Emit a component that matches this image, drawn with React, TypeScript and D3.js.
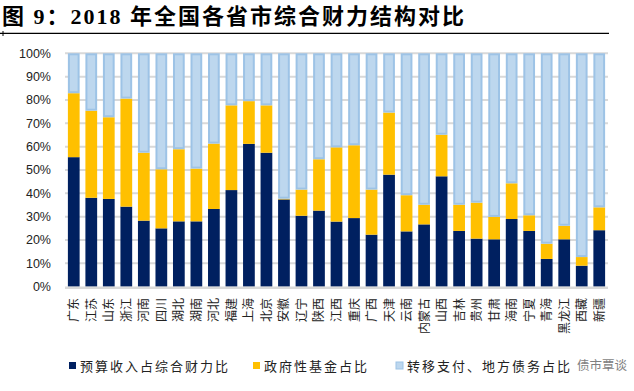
import { useEffect, useRef } from "react";
import * as d3 from "d3";

// 省份（从左到右）
const provinces = [
  "广东", "江苏", "山东", "浙江", "河南", "四川", "湖北", "湖南", "河北", "福建",
  "上海", "北京", "安徽", "辽宁", "陕西", "江西", "重庆", "广西", "天津", "云南",
  "内蒙古", "山西", "吉林", "贵州", "甘肃", "海南", "宁夏", "青海", "黑龙江", "西藏", "新疆",
];

// 预算收入占综合财力比 (%)
const budgetShare = [
  55.5, 38.1, 37.6, 34.3, 28.3, 25.0, 28.0, 28.0, 33.3, 41.4,
  61.2, 57.4, 37.4, 30.4, 32.6, 27.9, 29.4, 22.3, 48.0, 23.7,
  26.7, 47.3, 23.9, 20.6, 20.3, 29.0, 23.9, 11.9, 20.3, 9.0, 24.2,
];

// 政府性基金占比 (%)
const fundShare = [
  27.4, 37.3, 35.0, 46.3, 29.1, 25.3, 30.9, 22.6, 28.0, 36.3,
  18.3, 20.3, 0.3, 11.2, 22.0, 31.8, 31.2, 19.3, 26.6, 15.5,
  8.4, 17.8, 11.2, 15.4, 9.6, 15.3, 6.7, 6.5, 5.8, 3.7, 9.8,
];

const yTicks = [0, 10, 20, 30, 40, 50, 60, 70, 80, 90, 100];

const seriesNames = ["预算收入占综合财力比", "政府性基金占比", "转移支付、地方债务占比"];
const seriesColors = ["#002060", "#FFC000", "#BDD7EE"];

export default function App() {
  const svgRef = useRef<SVGSVGElement>(null);

  useEffect(() => {
    if (!svgRef.current) return;
    const svg = d3.select(svgRef.current);
    svg.selectAll("*").remove();

    const left = 65;
    const right = 608;
    const top = 53.3;
    const bottom = 286.7;

    const rows = provinces.map((p, i) => ({
      name: p,
      budget: budgetShare[i],
      fund: fundShare[i],
      transfer: 100 - budgetShare[i] - fundShare[i],
    }));

    const x = d3
      .scaleBand<string>()
      .domain(provinces)
      .range([left, right])
      .paddingInner(0.33)
      .paddingOuter(0.165);
    const y = d3.scaleLinear().domain([0, 100]).range([bottom, top]);

    // title
    svg
      .append("text")
      .attr("x", 2)
      .attr("y", 24)
      .attr("font-family", "'Liberation Serif', 'Noto Sans CJK SC', serif")
      .attr("font-size", 22)
      .attr("font-weight", 700)
      .attr("letter-spacing", 2)
      .attr("fill", "#000")
      .text("图 9：2018 年全国各省市综合财力结构对比");

    svg
      .append("line")
      .attr("x1", 0)
      .attr("x2", 609)
      .attr("y1", 33.3)
      .attr("y2", 33.3)
      .attr("stroke", "#000")
      .attr("stroke-width", 1.3);
    svg
      .append("line")
      .attr("x1", 3)
      .attr("x2", 3)
      .attr("y1", 31)
      .attr("y2", 36)
      .attr("stroke", "#000")
      .attr("stroke-width", 1);

    // gridlines
    svg
      .append("g")
      .selectAll("line")
      .data(yTicks.filter((t) => t > 0))
      .join("line")
      .attr("x1", left)
      .attr("x2", right)
      .attr("y1", (d) => y(d))
      .attr("y2", (d) => y(d))
      .attr("stroke", "#D9D9D9")
      .attr("stroke-width", 2);

    // y labels
    svg
      .append("g")
      .selectAll("text")
      .data(yTicks)
      .join("text")
      .attr("x", 51)
      .attr("y", (d) => y(d))
      .attr("dy", "0.35em")
      .attr("text-anchor", "end")
      .attr("font-family", "'Liberation Sans', Arial, sans-serif")
      .attr("font-size", 12.5)
      .attr("fill", "#222")
      .text((d) => `${d}%`);

    // stacked bars
    const stack = d3.stack<any>().keys(["budget", "fund", "transfer"]);
    const layers = stack(rows);
    const bw = x.bandwidth();

    layers.forEach((layer, li) => {
      const g = svg.append("g");
      g.selectAll("rect")
        .data(layer)
        .join("rect")
        .attr("x", (d) => (x(d.data.name) as number) + (li === 2 ? 1 : 0))
        .attr("y", (d) => y(d[1]) + (li === 2 ? 1 : 0))
        .attr("width", bw - (li === 2 ? 2 : 0))
        .attr("height", (d) => Math.max(0, y(d[0]) - y(d[1]) - (li === 2 ? 2 : 0)))
        .attr("fill", seriesColors[li])
        .attr("stroke", li === 2 ? "#9DC3E6" : "none")
        .attr("stroke-width", li === 2 ? 2 : 0);
    });

    // x axis line
    svg
      .append("line")
      .attr("x1", left)
      .attr("x2", right)
      .attr("y1", bottom + 1)
      .attr("y2", bottom + 1)
      .attr("stroke", "#D9D9D9")
      .attr("stroke-width", 2.5);

    // x labels (rotated)
    svg
      .append("g")
      .selectAll("text")
      .data(provinces)
      .join("text")
      .attr("transform", (d) => `translate(${(x(d) as number) + bw / 2 + 4.5},298) rotate(-90)`)
      .attr("text-anchor", "end")
      .attr("font-family", "'Noto Sans CJK SC', sans-serif")
      .attr("font-size", 12)
      .attr("fill", "#222")
      .text((d) => d);

    // legend
    const legendX = [69, 253, 396];
    const lg = svg.append("g");
    seriesNames.forEach((name, i) => {
      lg.append("rect")
        .attr("x", legendX[i])
        .attr("y", 362)
        .attr("width", 7)
        .attr("height", 7)
        .attr("fill", seriesColors[i])
        .attr("stroke", i === 2 ? "#9DC3E6" : "none")
        .attr("stroke-width", 1);
      lg.append("text")
        .attr("x", legendX[i] + 11)
        .attr("y", 370.5)
        .attr("font-family", "'Noto Sans CJK SC', sans-serif")
        .attr("font-size", 13)
        .attr("letter-spacing", 2)
        .attr("fill", "#222")
        .text(name);
    });

    // watermark
    svg
      .append("text")
      .attr("x", 577)
      .attr("y", 370)
      .attr("font-family", "'Noto Sans CJK SC', sans-serif")
      .attr("font-size", 12.5)
      .attr("fill", "#7f7f7f")
      .text("债市覃谈");
  }, []);

  return (
    <svg
      ref={svgRef}
      width={634}
      height={391}
      style={{ position: "absolute", left: 0, top: 0, display: "block", background: "#fff" }}
    />
  );
}
